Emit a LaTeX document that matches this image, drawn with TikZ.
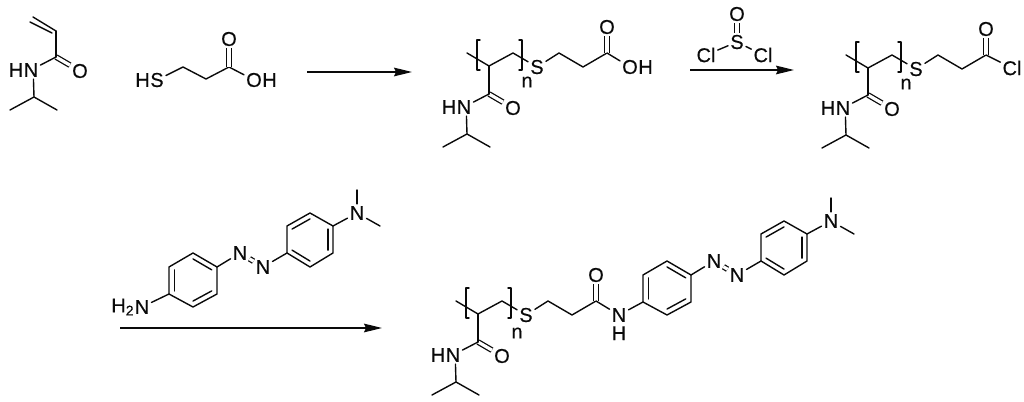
\documentclass[tikz,border=0pt]{standalone}
\usepackage{fontspec}
\setmainfont[FakeBold=0.2]{Liberation Sans}
\usetikzlibrary{calc,positioning,arrows.meta}
\definecolor{ink}{HTML}{0A0A0A}
\newcommand{\ringbond}[3]{\draw[bond] ($(#1)!.22!(#3)$) -- ($(#2)!.22!(#3)$);}
\tikzset{
  bond/.style={draw=ink, line width=1.05pt, line cap=round, line join=round},
  dbl/.style={draw=ink, line width=0.95pt, double=white, double distance=2.4pt},
  atom/.style={font=\fontsize{15}{17}\selectfont, text=ink, inner sep=1.5pt},
  rxn/.style={draw=ink, line width=1.05pt, -{Stealth[length=13.5pt, width=6.5pt, inset=1.5pt]}},
  amide/.pic={
    \coordinate (-c) at (0,0);
    \node[atom] (-o) at (24,14) {O};
    \node[atom] (-n) at (-25,13) {N};
    \node[atom, left=-3pt of -n] (-h) {H};
    \coordinate (-i) at (-22,40);
    \coordinate (-m1) at (-46,53);
    \coordinate (-m2) at (1,53);
    \draw[dbl] (-c) -- (-o);
    \draw[bond] (-c) -- (-n);
    \draw[bond] (-n.285) -- (-i);
    \draw[bond] (-m1) -- (-i) -- (-m2);
  },
  polymer/.pic={
    \coordinate (-ch) at (0,0);
    \coordinate (-me) at (-22,-13);
    \coordinate (-c2) at (24,-13);
    \node[atom] (-s) at (48,1) {S};
    \coordinate (-c3) at (70,-13);
    \coordinate (-c4) at (94,1);
    \coordinate (-c5) at (118,-13);
    \node[atom] (-o) at (118,-39) {O};
    \coordinate (-l1) at (-9,-26);
    \coordinate (-l2) at (-12,-26);
    \coordinate (-l3) at (-12,4);
    \coordinate (-l4) at (-9,4);
    \coordinate (-r1) at (30,-26);
    \coordinate (-r2) at (33,-26);
    \coordinate (-r3) at (33,4);
    \coordinate (-r4) at (30,4);
    \draw[bond] (-me) -- (-ch) -- (-c2) -- (-s);
    \draw[bond] (-s) -- (-c3) -- (-c4) -- (-c5);
    \draw[dbl] (-c5) -- (-o);
    \draw[bond] (-l1) -- (-l2) -- (-l3) -- (-l4);
    \draw[bond] (-r1) -- (-r2) -- (-r3) -- (-r4);
  },
  azo/.pic={
    \coordinate (-a1) at (0,0);
    \coordinate (-a2) at (0,-27);
    \coordinate (-a3) at (24,-41);
    \coordinate (-a4) at (48,-27);
    \coordinate (-a5) at (48,0);
    \coordinate (-a6) at (24,13);
    \coordinate (-ac) at (24,-14);
    \node[atom] (-n1) at (71,-41) {N};
    \node[atom] (-n2) at (94,-27) {N};
    \coordinate (-b1) at (118,-41);
    \coordinate (-b2) at (118,-68);
    \coordinate (-b3) at (141,-81);
    \coordinate (-b4) at (164,-68);
    \coordinate (-b5) at (164,-41);
    \coordinate (-b6) at (141,-27);
    \coordinate (-bc) at (141,-54);
    \node[atom] (-n3) at (188,-81) {N};
    \coordinate (-m1) at (188,-104);
    \coordinate (-m2) at (211,-68);
    \draw[bond] (-a1) -- (-a2) -- (-a3) -- (-a4) -- (-a5) -- (-a6) -- cycle;
    \draw[bond] (-b1) -- (-b2) -- (-b3) -- (-b4) -- (-b5) -- (-b6) -- cycle;
    \ringbond{-a1}{-a2}{-ac}
    \ringbond{-a3}{-a4}{-ac}
    \ringbond{-a5}{-a6}{-ac}
    \ringbond{-b2}{-b3}{-bc}
    \ringbond{-b4}{-b5}{-bc}
    \ringbond{-b6}{-b1}{-bc}
    \draw[bond] (-a4) -- (-n1);
    \draw[dbl] (-n1) -- (-n2);
    \draw[bond] (-n2) -- (-b1);
    \draw[bond] (-b4) -- (-n3);
    \draw[bond] (-n3) -- (-m1);
    \draw[bond] (-n3) -- (-m2);
  }
}
\begin{document}
\begin{tikzpicture}[x=0.75pt, y=-0.75pt]
  \useasboundingbox (0,0) rectangle (1024,402);

  % acrylamide
  \coordinate (v1) at (33,17);
  \coordinate (v2) at (56,31);
  \coordinate (v3) at (30,22);
  \coordinate (v4) at (52,33);
  \draw[bond] (v1) -- (v2);
  \draw[bond] (v3) -- (v4);
  \pic (am1) at (56,57) {amide};
  \draw[bond] (v2) -- (am1-c);

  % thiol acid
  \node[atom] (hs) at (157,80) {S};
  \node[atom, left=-3pt of hs] (hsh) {H};
  \coordinate (t1) at (183,67);
  \coordinate (t2) at (206,79);
  \coordinate (t3) at (229,67);
  \node[atom] (to) at (229,39) {O};
  \node[atom] (toh) at (254,80) {O};
  \node[atom, right=-3pt of toh] (tohh) {H};
  \draw[bond] (hs) -- (t1) -- (t2) -- (t3) -- (toh);
  \draw[dbl] (t3) -- (to);

  \coordinate (ar1a) at (307,72);
  \coordinate (ar1b) at (412,72);
  \draw[rxn] (ar1a) -- (ar1b);

  % polymer acid
  \pic (p1) at (489,66) {polymer};
  \pic (am2) at (489,94) {amide};
  \draw[bond] (p1-ch) -- (am2-c);
  \node[atom] (n1) at (527,82) {n};
  \node[atom] (p1oh) at (630,67) {O};
  \node[atom, right=-3pt of p1oh] (p1ohh) {H};
  \draw[bond] (p1-c5) -- (p1oh);

  % thionyl chloride
  \node[atom] (sos) at (737,42) {S};
  \node[atom] (soo) at (737,14) {O};
  \node[atom] (socl1) at (706,55) {Cl};
  \node[atom] (socl2) at (763,55) {Cl};
  \draw[dbl] (sos) -- (soo);
  \draw[bond] (sos) -- (socl1);
  \draw[bond] (sos) -- (socl2);
  \coordinate (ar2a) at (690,70);
  \coordinate (ar2b) at (794,70);
  \draw[rxn] (ar2a) -- (ar2b);

  % polymer acid chloride
  \pic (p2) at (868,68) {polymer};
  \pic (am3) at (868,95) {amide};
  \draw[bond] (p2-ch) -- (am3-c);
  \node[atom] (n2) at (906,84) {n};
  \node[atom] (p2cl) at (1012,68) {Cl};
  \draw[bond] (p2-c5) -- (p2cl);

  % amino azo dye
  \pic (az1) at (169,294) {azo};
  \node[atom] (nh2) at (142,307) {N};
  \node[atom, left=-3pt of nh2] (nh2h) {H\textsubscript{2}};
  \draw[bond] (nh2) -- (az1-a1);
  \coordinate (ar3a) at (120,328);
  \coordinate (ar3b) at (382,328);
  \draw[rxn] (ar3a) -- (ar3b);

  % product
  \pic (p3) at (478,314) {polymer};
  \pic (am4) at (478,342) {amide};
  \draw[bond] (p3-ch) -- (am4-c);
  \node[atom] (n3) at (517,333) {n};
  \node[atom] (pn) at (619,315) {N};
  \node[atom, below=0pt of pn] (pnh) {H};
  \pic (az2) at (643,302) {azo};
  \draw[bond] (p3-c5) -- (pn);
  \draw[bond] (pn) -- (az2-a1);
\end{tikzpicture}
\end{document}
